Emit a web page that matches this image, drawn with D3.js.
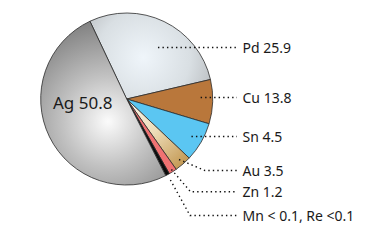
<!DOCTYPE html>
<html>
<head>
<meta charset="utf-8">
<script src="https://cdn.jsdelivr.net/npm/d3@7"></script>
<style>
  body { margin: 0; background: #fff; }
  text { font-family: "Noto Sans", "Open Sans", sans-serif; fill: #1a1a1a; }
</style>
</head>
<body>
<div id="chart"></div>
<script>
(function(){
	var width = 375,
	    height = 240;

	// slices, clockwise from Pd; Ag is the big one on the left
	var elements = ["Pd", "Cu", "Sn", "Au", "Zn", "MnRe", "Ag"];
	var labels = ["Pd 25.9", "Cu 13.8", "Sn 4.5", "Au 3.5", "Zn 1.2", "Mn < 0.1, Re <0.1", "Ag 50.8"];
	// share of the circle as drawn (the picture is not to scale with the labels)
	var shares = [28.4, 8.3, 7.4, 3.2, 1.5, 0.75, 50.5];

	var cx = 126.7, cy = 99, R = 86;
	var startDeg = -25.3;
	var lineEnd = 237, labelX = 242.5;

	var svg = d3.select("#chart")
	  .append("svg")
	  .attr("width", width)
	  .attr("height", height);

	var defs = svg.append("defs");
	var g = svg.append("g").attr("transform", "translate(" + cx + "," + cy + ")");

	var rad = Math.PI / 180;
	function polar(a, r) {
		return [Math.sin(a) * r, -Math.cos(a) * r];
	}

	var pie = d3.pie()
	  .sort(null)
	  .value(function(d) { return d.share; })
	  .startAngle(startDeg * rad)
	  .endAngle((startDeg + 360) * rad);

	var data = elements.map(function(e, i) {
		return { el: e, label: labels[i], share: shares[i] };
	});
	var arcs = pie(data);

	var arc = d3.arc().innerRadius(0).outerRadius(R);

	// fills: plain colours or radial gradients (shift = degrees off mid angle, f = fraction of R)
	var fills = {
		Pd:   { grad: { shift: -4, f: 0.52, r: 85, stops: [["0", "#eff5fa"], ["0.55", "#d9dfe3"], ["1", "#afb2b5"]] } },
		Cu:   { color: "#b9773b" },
		Sn:   { color: "#5bc6f2" },
		Au:   { grad: { center: true, r: 86, stops: [["0", "#fbf6ec"], ["0.5", "#eddcb8"], ["1", "#c49a55"]] } },
		Zn:   { color: "#f07272" },
		MnRe: { color: "#0d0d0d" },
		Ag:   { grad: { shift: -24, f: 0.34, r: 100, stops: [["0", "#fbfbfb"], ["0.45", "#c2c2c2"], ["1", "#838383"]] } }
	};

	arcs.forEach(function(a) {
		var s = fills[a.data.el];
		if (!s.grad) return;
		var mid = (a.startAngle + a.endAngle) / 2;
		var p = s.grad.center ? [0, 0] : polar(mid + s.grad.shift * rad, s.grad.f * R);
		var gr = defs.append("radialGradient")
		  .attr("id", "grad-" + a.data.el.toLowerCase())
		  .attr("gradientUnits", "userSpaceOnUse")
		  .attr("cx", p[0]).attr("cy", p[1]).attr("r", s.grad.r);
		s.grad.stops.forEach(function(st) {
			gr.append("stop").attr("offset", st[0]).attr("stop-color", st[1]);
		});
	});

	g.selectAll(".slice")
	  .data(arcs)
	  .enter().append("path")
	  .attr("class", "slice")
	  .attr("d", arc)
	  .attr("fill", function(d) {
		  var s = fills[d.data.el];
		  return s.grad ? "url(#grad-" + d.data.el.toLowerCase() + ")" : s.color;
	  })
	  .attr("stroke", "#2b2b2b")
	  .attr("stroke-width", 0.8)
	  .attr("stroke-linejoin", "round");

	// leader lines: start at fraction f of R, shift degrees off the mid angle,
	// then an elbow (for the small slices) and across to the label
	var leaders = {
		Pd:   { f: 0.70, shift: 5.5 },
		Cu:   { f: 0.86, shift: -3 },
		Sn:   { f: 0.87, shift: 0 },
		Au:   { f: 0.93, shift: 0, elbow: [205, 170.5] },
		Zn:   { f: 0.97, shift: 0, elbow: [190.5, 191.7] },
		MnRe: { f: 1.07, shift: 0, elbow: [190, 215.5] }
	};

	arcs.forEach(function(a) {
		var L = leaders[a.data.el];
		if (!L) return;
		var mid = (a.startAngle + a.endAngle) / 2 + L.shift * rad;
		var p = polar(mid, L.f * R);
		var pts = [[p[0] + cx, p[1] + cy]];
		var ly = p[1] + cy;
		if (L.elbow) {
			pts.push(L.elbow);
			ly = L.elbow[1];
		}
		pts.push([lineEnd, ly]);

		svg.append("path")
		  .attr("d", d3.line()(pts))
		  .attr("fill", "none")
		  .attr("stroke", "#111")
		  .attr("stroke-width", 1.4)
		  .attr("stroke-dasharray", "1.4 3.1");

		svg.append("text")
		  .attr("x", labelX)
		  .attr("y", ly)
		  .attr("dy", "0.36em")
		  .style("font-size", "14px")
		  .text(a.data.label);
	});

	// the big slice is labelled inside
	var ag = arcs[elements.indexOf("Ag")];
	g.append("text")
	  .attr("x", -44)
	  .attr("y", 4)
	  .attr("dy", "0.36em")
	  .attr("text-anchor", "middle")
	  .style("font-size", "17px")
	  .text(ag.data.label);
})();
</script>
</body>
</html>
